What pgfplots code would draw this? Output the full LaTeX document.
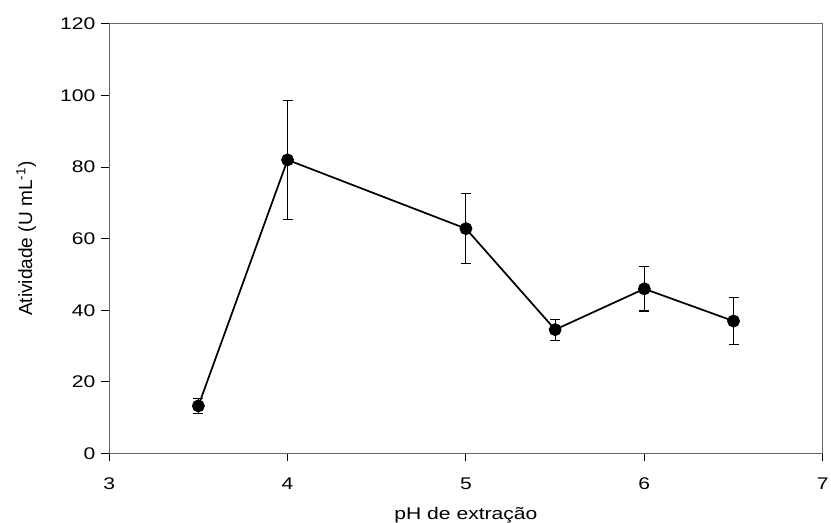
\documentclass[border=0pt]{standalone}
\usepackage{pgfplots}
\pgfplotsset{compat=1.18}
\usepackage{fontspec}
\setmainfont{Liberation Sans}
\begin{document}
\begin{tikzpicture}[x=1pt,y=1pt]
\begin{axis}[
    scale only axis,
    width=539.25pt,
    height=324.75pt,
    xmin=3, xmax=7,
    ymin=0, ymax=120,
    xtick={3,4,5,6,7},
    ytick={0,20,40,60,80,100,120},
    tick align=outside,
    xtick pos=bottom,
    ytick pos=left,
    major tick length=6pt,
    axis line style={gray!80!black, line width=0.9pt},
    tick style={black, line width=0.8pt},
    /pgf/number format/assume math mode=true,
    tick label style={font=\fontsize{12.75}{14}\selectfont, xscale=1.25},
    xticklabel style={yshift=-8.5pt},
    xlabel={pH de extração},
    ylabel={Atividade (U mL\textsuperscript{-1})},
    xlabel style={font=\fontsize{12.75}{14}\selectfont, xscale=1.25, yshift=-6.5pt},
    ylabel style={font=\fontsize{14.4}{16}\selectfont, yshift=10.5pt},
]
\addplot[
    black,
    line width=1.3pt,
    mark=*,
    mark size=4.2pt,
    error bars/.cd,
        y dir=both, y explicit,
        error bar style={line width=0.8pt, black},
        error mark options={rotate=90, mark size=3.75pt, line width=0.8pt},
] coordinates {
    (3.5,13.3) +- (0,2.0)
    (4.0,82.0) +- (0,16.6)
    (5.0,62.8) +- (0,9.8)
    (5.5,34.6) +- (0,2.9)
    (6.0,46.0) +- (0,6.2)
    (6.5,37.0) +- (0,6.5)
};
\end{axis}
\pgfresetboundingbox
\path (-82.5pt,-51.75pt) rectangle (545.5pt,342.75pt);
\end{tikzpicture}
\end{document}
